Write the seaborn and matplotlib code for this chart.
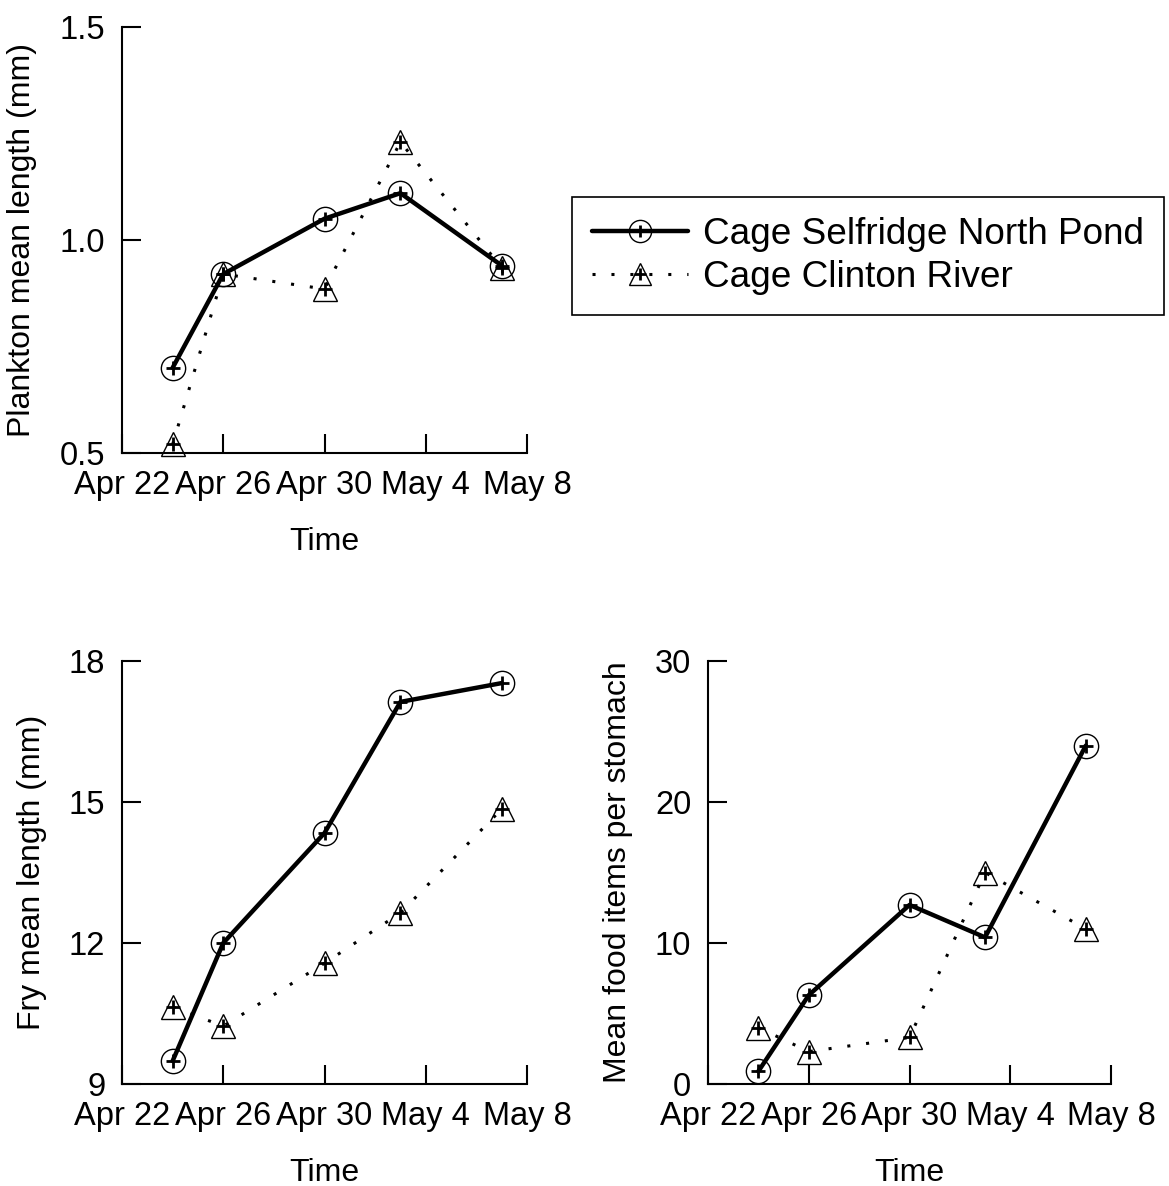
import matplotlib
matplotlib.use("Agg")
import matplotlib.pyplot as plt
import matplotlib.dates as mdates
from matplotlib.lines import Line2D
from matplotlib.legend_handler import HandlerTuple
import pandas as pd
import seaborn as sns

# Sampling dates (days of the survey)
dates = pd.to_datetime(["2000-04-24", "2000-04-26", "2000-04-30", "2000-05-03", "2000-05-07"])
tick_dates = pd.to_datetime(["2000-04-22", "2000-04-26", "2000-04-30", "2000-05-04", "2000-05-08"])

series_names = ["Cage Selfridge North Pond", "Cage Clinton River"]

# Plankton mean length (mm)
plankton_selfridge = [0.70, 0.92, 1.05, 1.11, 0.94]
plankton_clinton = [0.52, 0.92, 0.885, 1.23, 0.935]

# Fry mean length (mm)
fry_selfridge = [9.49, 12.0, 14.34, 17.13, 17.53]
fry_clinton = [10.64, 10.23, 11.57, 12.64, 14.85]

# Mean food items per stomach
food_selfridge = [0.9, 6.3, 12.7, 10.4, 24.0]
food_clinton = [4.0, 2.3, 3.3, 15.0, 11.0]

sns.set_style("ticks")
plt.rcParams["font.family"] = ["Liberation Sans", "DejaVu Sans"]
plt.rcParams["axes.linewidth"] = 1.5
for key in ("text.color", "axes.labelcolor", "xtick.color", "ytick.color", "axes.edgecolor"):
    plt.rcParams[key] = "black"

TICK_FS = 23.5
LABEL_FS = 23
LEGEND_FS = 26.6
SOLID_LW = 3.2
DOT_STYLE = (0, (1.0, 5.2))
DOT_LW = 2.2

fig = plt.figure(figsize=(11.69, 11.86), dpi=100)
W, H = 1169, 1186


def box(l, r, t, b):
    return [l / W, 1 - b / H, (r - l) / W, (b - t) / H]


def draw_panel(ax, sel, cli, ylim, yticks, yticklabels, ylabel):
    df = pd.DataFrame({"date": list(dates) * 2,
                       "value": list(sel) + list(cli),
                       "site": [series_names[0]] * len(dates) + [series_names[1]] * len(dates)})
    sns.lineplot(data=df[df.site == series_names[0]], x="date", y="value", ax=ax,
                 color="black", lw=SOLID_LW, solid_capstyle="round")
    sns.lineplot(data=df[df.site == series_names[1]], x="date", y="value", ax=ax,
                 color="black", lw=DOT_LW, linestyle=DOT_STYLE)
    ax.plot(dates, sel, ls="none", marker="o", ms=17.5, mfc="none", mec="black", mew=1.0, clip_on=False)
    ax.plot(dates, sel, ls="none", marker="+", ms=9.5, mec="black", mew=2.0, clip_on=False)
    ax.plot(dates, cli, ls="none", marker="^", ms=17.5, mfc="none", mec="black", mew=1.0, clip_on=False)
    ax.plot(dates, cli, ls="none", marker="+", ms=9.5, mec="black", mew=2.0, clip_on=False)

    ax.set_xlim(tick_dates[0], tick_dates[-1])
    ax.set_xticks(tick_dates)
    ax.xaxis.set_major_formatter(mdates.DateFormatter("%b %-d"))
    ax.set_ylim(*ylim)
    ax.set_yticks(yticks)
    ax.set_yticklabels(yticklabels)
    ax.tick_params(axis="both", direction="in", length=14, width=1.5, labelsize=TICK_FS, colors="black")
    ax.tick_params(axis="x", pad=12)
    ax.tick_params(axis="y", pad=12)
    ax.set_xlabel("Time", fontsize=LABEL_FS, labelpad=19)
    ax.set_ylabel(ylabel, fontsize=LABEL_FS, labelpad=16)
    sns.despine(ax=ax)


ax1 = fig.add_axes(box(122, 527, 27, 453))
draw_panel(ax1, plankton_selfridge, plankton_clinton, (0.5, 1.5),
           [0.5, 1.0, 1.5], ["0.5", "1.0", "1.5"], "Plankton mean length (mm)")

ax2 = fig.add_axes(box(122, 527, 661, 1084))
draw_panel(ax2, fry_selfridge, fry_clinton, (9, 18),
           [9, 12, 15, 18], ["9", "12", "15", "18"], "Fry mean length (mm)")

ax3 = fig.add_axes(box(708, 1111, 661, 1084))
draw_panel(ax3, food_selfridge, food_clinton, (0, 30),
           [0, 10, 20, 30], ["0", "10", "20", "30"], "Mean food items per stomach")

# Legend handles: line with an open marker and a cross laid over it
h_sel = (Line2D([], [], color="black", lw=SOLID_LW, marker="o", ms=16, mfc="none", mew=1.0),
         Line2D([], [], ls="none", color="black", marker="+", ms=9, mew=2.0))
h_cli = (Line2D([], [], color="black", lw=DOT_LW, linestyle=DOT_STYLE, marker="^", ms=16, mfc="none", mew=1.0),
         Line2D([], [], ls="none", color="black", marker="+", ms=9, mew=2.0))
leg = fig.legend([h_sel, h_cli], series_names,
                 handler_map={tuple: HandlerTuple(ndivide=1, pad=0)},
                 loc="upper left", bbox_to_anchor=(572 / W, 1 - 197 / H),
                 fontsize=LEGEND_FS, frameon=True, fancybox=False, framealpha=1,
                 edgecolor="black", handlelength=2.6, handletextpad=0.4,
                 borderpad=0.55, labelspacing=0.2, borderaxespad=0)
leg.get_frame().set_linewidth(1.2)

fig.savefig("out.png", dpi=100)
